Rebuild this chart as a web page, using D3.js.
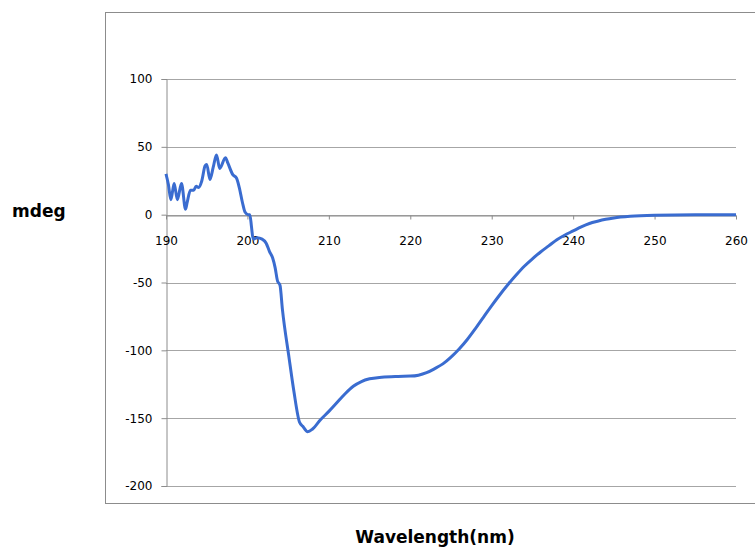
<!DOCTYPE html>
<html>
<head>
<meta charset="utf-8">
<script src="https://cdn.jsdelivr.net/npm/d3@7"></script>
<style>
  body { margin: 0; background: #fff; }
  svg { display: block; font-family: "DejaVu Sans", Verdana, sans-serif; }
</style>
</head>
<body>
<svg></svg>
<script>
// CD spectrum
const wavelength = [190.0, 190.3, 190.6, 191.0, 191.4, 191.9, 192.4, 192.6, 193.0, 193.4, 193.7, 194.0,
  194.4, 194.8, 195.0, 195.4, 195.8, 196.2, 196.6, 197.3, 197.6, 198.2, 198.65, 199.0, 199.4, 199.7,
  200.1, 200.3, 200.5, 200.7, 201.2, 201.8, 202.3, 202.7, 203.1, 203.4, 203.7, 204.0, 204.3, 205.1,
  205.7, 206.4, 206.8, 207.4, 208.0, 209.0, 210.0, 211.0, 212.0, 213.0, 214.0, 215.0, 216.5, 218.5,
  220.0, 221.0, 222.0, 223.0, 224.0, 225.0, 226.0, 227.0, 228.0, 229.0, 230.0, 231.0, 232.0, 233.0,
  234.0, 235.0, 236.0, 237.0, 238.0, 239.0, 240.0, 241.0, 242.0, 243.0, 244.0, 245.0, 247.0, 250.0,
  255.0, 260.0];
const mdeg = [30, 22, 11, 23, 11, 23, 4, 9, 18, 18, 21, 20,
  25, 36, 37, 26, 35, 44, 34, 42, 38, 29.5, 27, 20, 8.6, 2,
  0, 0, -9, -18, -17, -18, -21, -27, -32, -39, -49, -52, -70, -105,
  -130, -153, -156, -160, -158, -151, -145, -138.5, -132, -126.5, -123, -121, -119.8, -119.2,
  -119, -118.3, -116.5, -113.5, -110, -105, -99, -92, -84, -75.5, -67, -59, -51.5, -44.5,
  -38, -32.5, -27.5, -23, -18.5, -15, -12, -9, -6.5, -4.8, -3.4, -2.4, -1.2, -0.4,
  0, 0];
const xTicks = [190, 200, 210, 220, 230, 240, 250, 260];
const yTicks = [-200, -150, -100, -50, 0, 50, 100];

const width = 755, height = 548;
const plot = { left: 166, right: 736, top: 79, bottom: 486 };

const svg = d3.select("svg")
  .attr("width", width)
  .attr("height", height);

const x = d3.scaleLinear().domain([190, 260]).range([plot.left, plot.right]);
const y = d3.scaleLinear().domain([-200, 100]).range([plot.bottom, plot.top]);

// outer chart frame (runs off the right side)
svg.append("rect")
  .attr("x", 105.5).attr("y", 12.5)
  .attr("width", 700).attr("height", 491)
  .attr("fill", "none")
  .attr("stroke", "#8c8c8c");

// horizontal gridlines
svg.append("g")
  .selectAll("line")
  .data(yTicks)
  .join("line")
    .attr("x1", plot.left).attr("x2", plot.right)
    .attr("y1", d => Math.round(y(d)) + 0.5)
    .attr("y2", d => Math.round(y(d)) + 0.5)
    .attr("stroke", "#a6a6a6");

// plain hyphen minus like the original
const fmt = d => String(d);

// y axis on the left
const yAxis = svg.append("g")
  .attr("transform", `translate(${plot.left + 0.5},0)`)
  .call(d3.axisLeft(y).tickValues(yTicks).tickFormat(fmt).tickSize(5).tickPadding(9));
yAxis.select(".domain").attr("stroke", "#8c8c8c");
yAxis.selectAll(".tick line").attr("stroke", "#8c8c8c");
yAxis.selectAll("text").attr("font-size", 12).attr("fill", "#000")
  .attr("font-family", "DejaVu Sans, Verdana, sans-serif");

// x axis crosses at zero
const xAxis = svg.append("g")
  .attr("transform", `translate(0,${Math.round(y(0)) + 0.5})`)
  .call(d3.axisBottom(x).tickValues(xTicks).tickFormat(fmt).tickSize(4).tickPadding(17).tickSizeOuter(0));
xAxis.select(".domain").attr("stroke", "#8c8c8c");
xAxis.selectAll(".tick line").attr("stroke", "#8c8c8c");
xAxis.selectAll("text").attr("font-size", 12).attr("fill", "#000")
  .attr("font-family", "DejaVu Sans, Verdana, sans-serif");

// the spectrum
const points = wavelength.map((w, i) => [w, mdeg[i]]);
const line = d3.line()
  .x(d => x(d[0]))
  .y(d => y(d[1]))
  .curve(d3.curveMonotoneX);

svg.append("path")
  .datum(points)
  .attr("d", line)
  .attr("fill", "none")
  .attr("stroke", "#3a6cd0")
  .attr("stroke-width", 3)
  .attr("stroke-linejoin", "round");

// axis titles
svg.append("text")
  .attr("x", 12).attr("y", 217)
  .attr("font-size", 17).attr("font-weight", "bold")
  .text("mdeg");

svg.append("text")
  .attr("x", 435).attr("y", 543)
  .attr("text-anchor", "middle")
  .attr("font-size", 17).attr("font-weight", "bold")
  .text("Wavelength(nm)");
</script>
</body>
</html>
